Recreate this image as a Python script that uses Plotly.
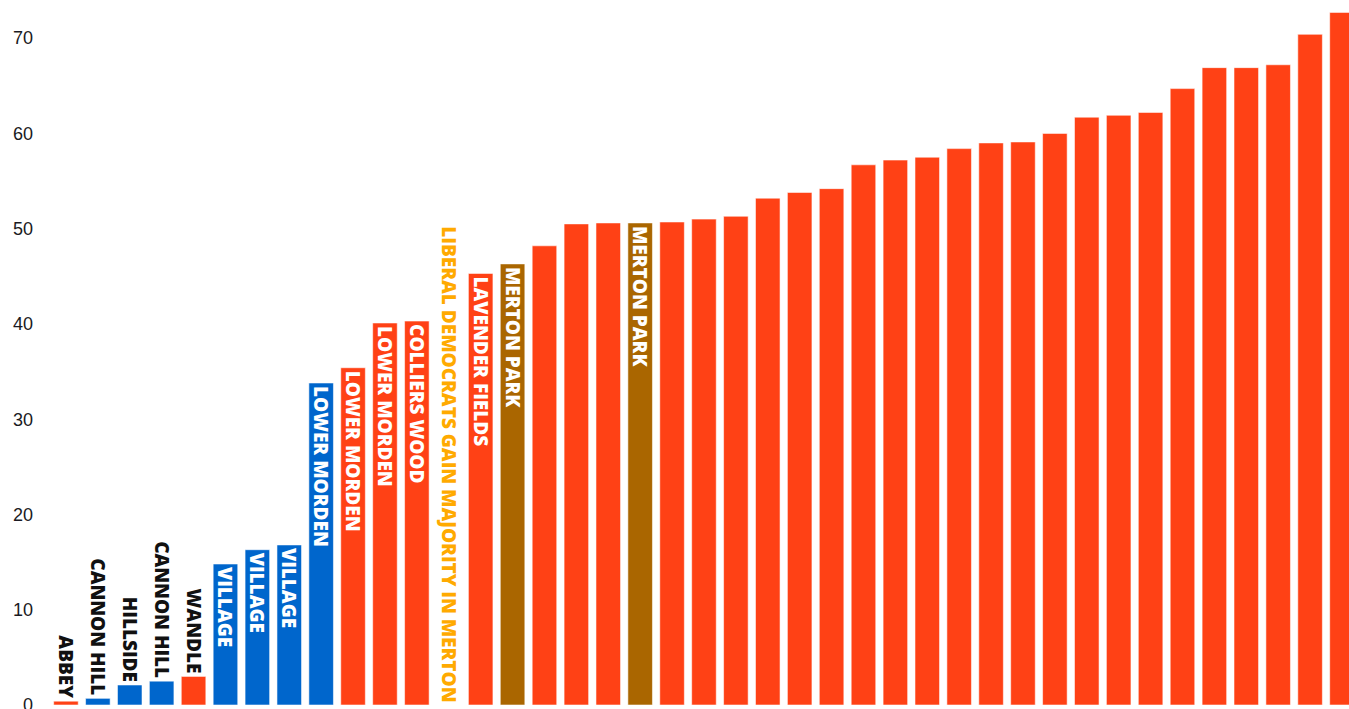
import plotly.graph_objects as go

# ---- data ----
wards = ["ABBEY", "CANNON HILL", "HILLSIDE", "CANNON HILL", "WANDLE",
         "VILLAGE", "VILLAGE", "VILLAGE", "LOWER MORDEN", "LOWER MORDEN",
         "LOWER MORDEN", "COLLIERS WOOD", "", "LAVENDER FIELDS", "MERTON PARK",
         "", "", "", "MERTON PARK", "",
         "", "", "", "", "", "", "", "", "", "",
         "", "", "", "", "", "", "", "", "", "", ""]
values = [0.4, 0.7, 2.1, 2.5, 3.0,
          14.8, 16.3, 16.8, 33.8, 35.4,
          40.1, 40.3, None, 45.3, 46.3,
          48.2, 50.5, 50.6, 50.6, 50.7,
          51.0, 51.3, 53.2, 53.8, 54.2, 56.7, 57.2, 57.5, 58.4, 59.0,
          59.1, 60.0, 61.7, 61.9, 62.2, 64.7, 66.9, 66.9, 67.2, 70.4, 72.7]
parties = ["LAB", "CON", "CON", "CON", "LAB",
           "CON", "CON", "CON", "CON", "LAB",
           "LAB", "LAB", "", "LAB", "MPR",
           "LAB", "LAB", "LAB", "MPR", "LAB",
           "LAB", "LAB", "LAB", "LAB", "LAB", "LAB", "LAB", "LAB", "LAB", "LAB",
           "LAB", "LAB", "LAB", "LAB", "LAB", "LAB", "LAB", "LAB", "LAB", "LAB", "LAB"]
headline = "LIBERAL DEMOCRATS GAIN MAJORITY IN MERTON"
headline_slot = 12
y_ticks = [0, 10, 20, 30, 40, 50, 60, 70]

# ---- styles ----
party_colors = {"LAB": "#FF4115", "CON": "#0066CC", "MPR": "#AA6600", "": "rgba(0,0,0,0)"}
positions = list(range(len(values)))
bar_colors = [party_colors[p] for p in parties]
text_pos = ["outside" if (v is not None and v < 10) else "inside" for v in values]
text_cols = ["#111111" if tp == "outside" else "#FFFFFF" for tp in text_pos]

fig = go.Figure()
fig.add_trace(go.Bar(
    x=positions, y=values,
    marker=dict(color=bar_colors, line=dict(color="rgba(255,255,255,0.55)", width=1)),
    text=wards, textposition=text_pos, textangle=90,
    insidetextanchor="end", constraintext="none", cliponaxis=False,
    textfont=dict(family="Open Sans", size=19, color=text_cols, weight=800),
    hoverinfo="skip", width=0.77,
))

fig.add_annotation(
    x=headline_slot, y=0, xref="x", yref="y", text=headline, textangle=90,
    showarrow=False, xanchor="center", yanchor="bottom", yshift=1,
    font=dict(family="Open Sans", size=19, color="#FFAA00", weight=800),
)

fig.update_layout(
    width=1349, height=709,
    margin=dict(l=50, r=0, t=0, b=4, autoexpand=False),
    paper_bgcolor="white", plot_bgcolor="white",
    showlegend=False,
    xaxis=dict(range=[-0.5, 40.22], showticklabels=False, showgrid=False,
               zeroline=False, showline=False, ticks="", automargin=False),
    yaxis=dict(range=[0, 74.0], tickvals=y_ticks, showgrid=False, zeroline=False,
               showline=False, ticks="", ticklabelstandoff=16,
               ticklabeloverflow="allow", automargin=False,
               tickfont=dict(family="Liberation Sans", size=18, color="#1a1a22")),
)

fig.write_html("out.html", config={"displayModeBar": False},
               post_script="document.body.style.margin='0';document.body.style.overflow='hidden';")
